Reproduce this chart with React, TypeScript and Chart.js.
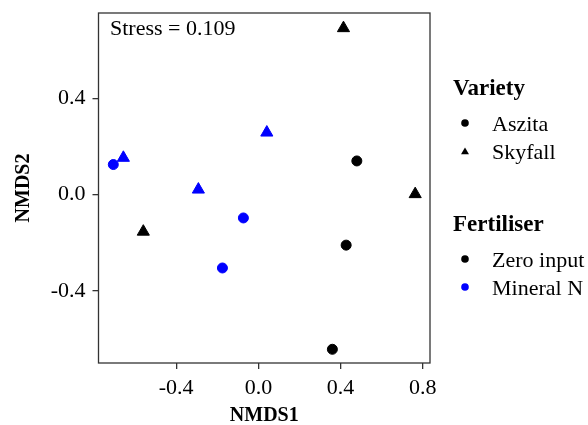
import { useEffect, useRef } from 'react';
import { Chart, registerables } from 'chart.js';

Chart.register(...registerables);

// ---- Data ----
const aszitaZeroX = [0.479, 0.427, 0.360];
const aszitaZeroY = [0.140, -0.210, -0.643];
const skyfallZeroX = [0.414, 0.763, -0.560];
const skyfallZeroY = [0.692, 0.002, -0.154];
const aszitaMineralX = [-0.706, -0.073, -0.175];
const aszitaMineralY = [0.125, -0.097, -0.305];
const skyfallMineralX = [-0.657, 0.041, -0.292];
const skyfallMineralY = [0.153, 0.258, 0.021];

const xTicks = [-0.4, 0.0, 0.4, 0.8];
const yTicks = [-0.4, 0.0, 0.4];
const xRange = [-0.778, 0.835];
const yRange = [-0.7, 0.755];

const xTitle = 'NMDS1';
const yTitle = 'NMDS2';
const stressLabel = 'Stress = 0.109';
const varietyTitle = 'Variety';
const varietyLabels = ['Aszita', 'Skyfall'];
const fertTitle = 'Fertiliser';
const fertLabels = ['Zero input', 'Mineral N'];

const FONT = '"Liberation Serif", "Times New Roman", serif';
const BLUE = '#0000FF';
const BLACK = '#000000';

function pts(xs: number[], ys: number[]) {
  return xs.map((x, i) => ({ x, y: ys[i] }));
}

function drawMarker(ctx: CanvasRenderingContext2D, shape: string, x: number, y: number, r: number, color: string) {
  ctx.save();
  ctx.fillStyle = color;
  ctx.beginPath();
  if (shape === 'circle') {
    ctx.arc(x, y, r, 0, Math.PI * 2);
  } else {
    let rad = 0;
    ctx.moveTo(x + Math.sin(rad) * r, y - Math.cos(rad) * r);
    rad += (2 * Math.PI) / 3;
    ctx.lineTo(x + Math.sin(rad) * r, y - Math.cos(rad) * r);
    rad += (2 * Math.PI) / 3;
    ctx.lineTo(x + Math.sin(rad) * r, y - Math.cos(rad) * r);
    ctx.closePath();
  }
  ctx.fill();
  ctx.restore();
}

const overlayPlugin = {
  id: 'overlay',
  afterDraw(chart: any) {
    const ctx: CanvasRenderingContext2D = chart.ctx;
    const a = chart.chartArea;
    ctx.save();
    // panel border
    ctx.strokeStyle = '#333333';
    ctx.lineWidth = 1.3;
    ctx.strokeRect(a.left, a.top, a.right - a.left, a.bottom - a.top);

    // stress annotation
    ctx.fillStyle = '#000';
    ctx.font = `22px ${FONT}`;
    ctx.textBaseline = 'alphabetic';
    ctx.textAlign = 'left';
    ctx.fillText(stressLabel, 110, 35);

    // legend: Variety
    ctx.font = `bold 23px ${FONT}`;
    ctx.fillText(varietyTitle, 453, 95);
    ctx.font = `22px ${FONT}`;
    const vShapes = ['circle', 'triangle'];
    const vY = [123, 151];
    varietyLabels.forEach((lab, i) => {
      drawMarker(ctx, vShapes[i], 465, vY[i] + (vShapes[i] === 'triangle' ? 1 : 0), vShapes[i] === 'circle' ? 3.8 : 4.6, BLACK);
      ctx.fillStyle = '#000';
      ctx.fillText(lab, 492, vY[i] + 8);
    });

    // legend: Fertiliser
    ctx.font = `bold 23px ${FONT}`;
    ctx.fillText(fertTitle, 453, 231);
    ctx.font = `22px ${FONT}`;
    const fColors = [BLACK, BLUE];
    const fY = [259, 287];
    fertLabels.forEach((lab, i) => {
      drawMarker(ctx, 'circle', 465, fY[i], 3.8, fColors[i]);
      ctx.fillStyle = '#000';
      ctx.fillText(lab, 492, fY[i] + 8);
    });
    ctx.restore();
  },
};

export default function App() {
  const ref = useRef<HTMLCanvasElement | null>(null);

  useEffect(() => {
    if (!ref.current) return;
    const circle = { pointStyle: 'circle', pointRadius: 5, pointBorderWidth: 1 };
    const tri = { pointStyle: 'triangle', pointRadius: 7, pointBorderWidth: 1 };
    const chart = new Chart(ref.current, {
      type: 'scatter',
      data: {
        datasets: [
          { label: 'Aszita / Zero input', data: pts(aszitaZeroX, aszitaZeroY), backgroundColor: BLACK, borderColor: BLACK, ...circle },
          { label: 'Skyfall / Zero input', data: pts(skyfallZeroX, skyfallZeroY), backgroundColor: BLACK, borderColor: BLACK, ...tri },
          { label: 'Aszita / Mineral N', data: pts(aszitaMineralX, aszitaMineralY), backgroundColor: BLUE, borderColor: BLUE, ...circle },
          { label: 'Skyfall / Mineral N', data: pts(skyfallMineralX, skyfallMineralY), backgroundColor: BLUE, borderColor: BLUE, ...tri },
        ] as any,
      },
      options: {
        responsive: false,
        animation: false,
        layout: { padding: { top: 13, right: 158, left: 0, bottom: 0 } },
        plugins: { legend: { display: false }, tooltip: { enabled: false } },
        scales: {
          x: {
            type: 'linear',
            min: xRange[0],
            max: xRange[1],
            afterBuildTicks: (s: any) => { s.ticks = xTicks.map((v) => ({ value: v })); },
            afterFit: (s: any) => { s.height = 62; s.paddingLeft = 0; s.paddingRight = 0; },
            ticks: {
              callback: (v: any) => Number(v).toFixed(1),
              color: '#000',
              font: { family: FONT, size: 22 },
              padding: 6,
              maxRotation: 0,
              autoSkip: false,
            },
            grid: { drawOnChartArea: false, drawTicks: true, tickLength: 6, color: '#333', lineWidth: 1.3 },
            border: { display: false },
            title: { display: true, text: xTitle, color: '#000', font: { family: FONT, size: 20, weight: 'bold', lineHeight: 1 }, padding: { top: 0, bottom: -1 } },
          },
          y: {
            type: 'linear',
            min: yRange[0],
            max: yRange[1],
            afterBuildTicks: (s: any) => { s.ticks = yTicks.map((v) => ({ value: v })); },
            afterFit: (s: any) => { s.width = 98.5; s.paddingTop = 0; s.paddingBottom = 0; },
            ticks: {
              callback: (v: any) => Number(v).toFixed(1),
              color: '#000',
              font: { family: FONT, size: 22 },
              padding: 7,
              autoSkip: false,
            },
            grid: { drawOnChartArea: false, drawTicks: true, tickLength: 6, color: '#333', lineWidth: 1.3 },
            border: { display: false },
            title: { display: true, text: yTitle, color: '#000', font: { family: FONT, size: 20, weight: 'bold', lineHeight: 1 }, padding: { top: 14, bottom: 0 } },
          },
        },
      } as any,
      plugins: [overlayPlugin],
    });
    return () => chart.destroy();
  }, []);

  return (
    <div style={{ position: 'absolute', left: 0, top: 0, width: 588, height: 425, background: '#fff' }}>
      <canvas ref={ref} width={588} height={425} style={{ display: 'block' }} />
    </div>
  );
}
